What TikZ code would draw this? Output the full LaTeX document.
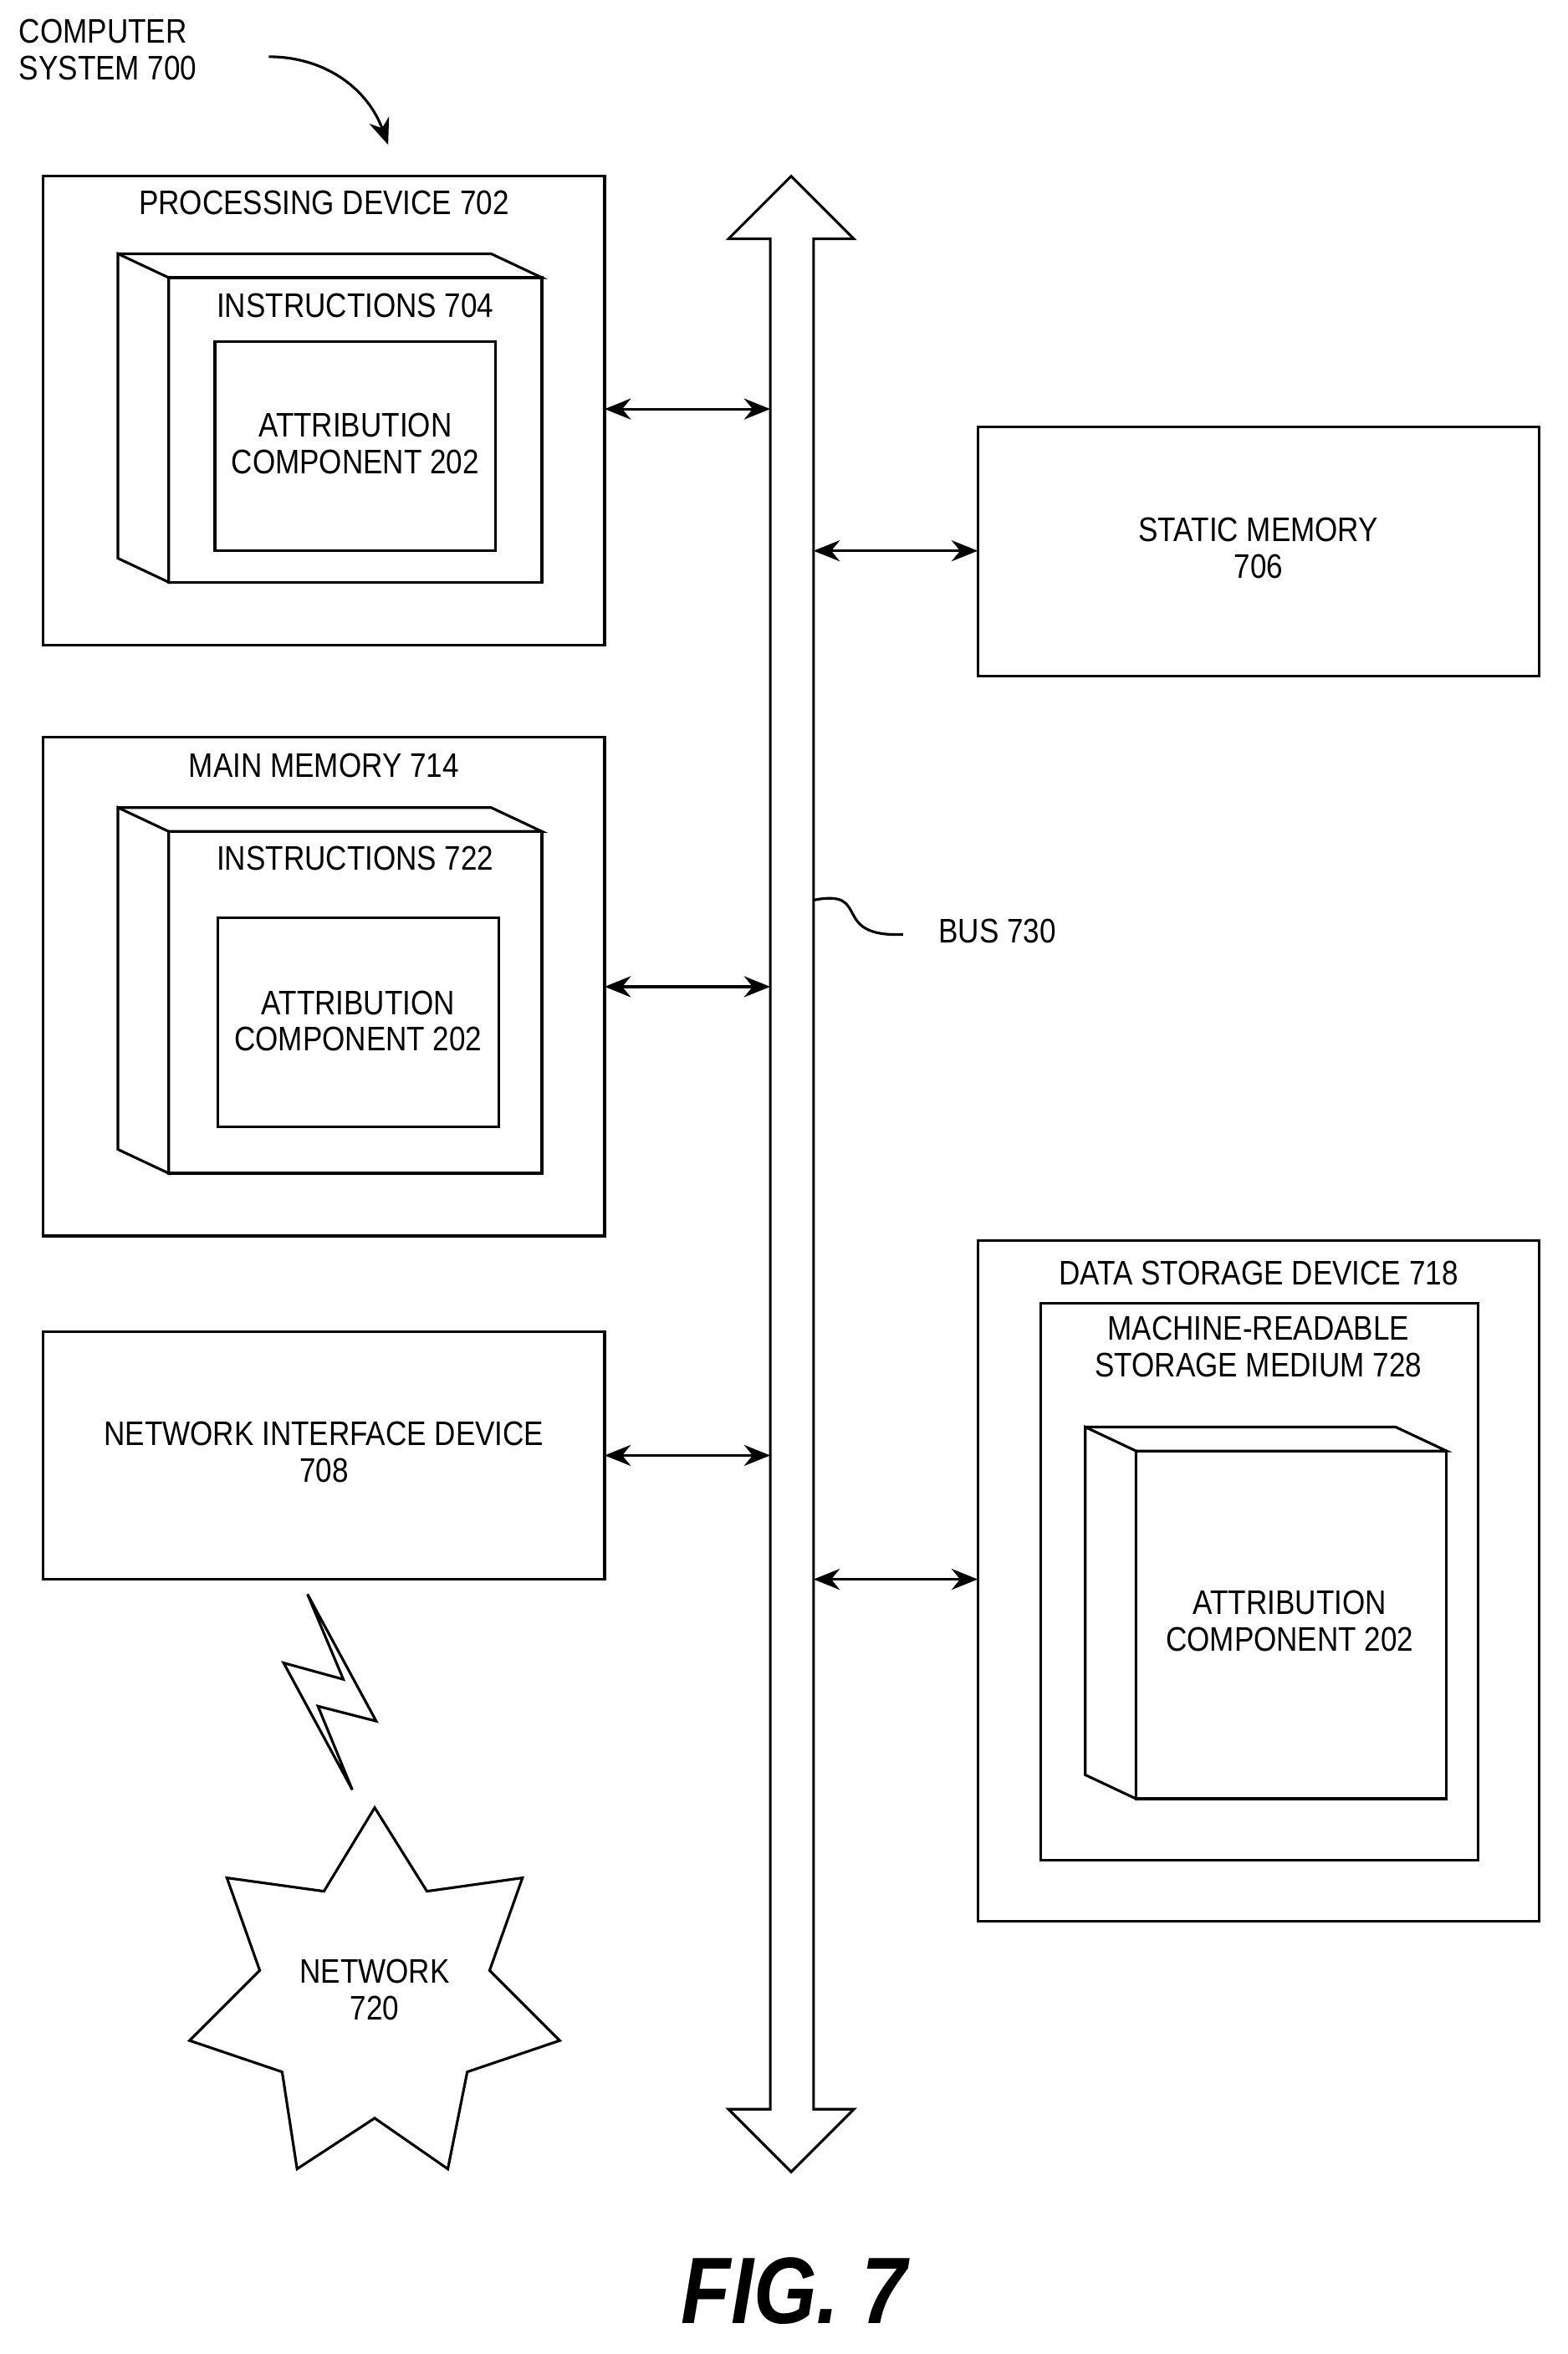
\documentclass[tikz,border=0pt]{standalone}
\usepackage{fontspec}
\setmainfont[FakeStretch=0.86]{Liberation Sans}
\usetikzlibrary{arrows.meta}
\begin{document}
\begin{tikzpicture}[x=0.1mm,y=-0.1mm,line width=0.5pt,
 lbl/.style={font=\fontsize{6.5}{7.0}\selectfont,align=center,inner sep=0},
 dbl/.style={{Stealth[length=5pt,width=4pt]}-{Stealth[length=5pt,width=4pt]}}]
\useasboundingbox (0,0) rectangle (1050,1577);
\node[lbl,align=left,anchor=north west] (cs) at (12,12) {COMPUTER\\SYSTEM 700};
\coordinate (csa) at (180,38); \coordinate (csb) at (260,97);
\draw[-{Stealth[length=5pt,width=4pt]}] (csa) to[out=0,in=110] (csb);
% processing device
\draw (29,118) rectangle (405,432);
\node[lbl] (pdl) at (217,136) {PROCESSING DEVICE 702};
\draw (79,170)--(113,186)--(113,390)--(79,374)--cycle;
\draw (79,170)--(329,170)--(363,186)--(113,186);
\draw (113,186) rectangle (363,390);
\node[lbl] (i704) at (238,205) {INSTRUCTIONS 704};
\draw (144,229) rectangle (332,369);
\node[lbl] (ac1) at (238,297) {ATTRIBUTION\\COMPONENT 202};
% main memory
\draw (29,494) rectangle (405,828);
\node[lbl] (mml) at (217,513) {MAIN MEMORY 714};
\draw (79,541)--(113,557)--(113,786)--(79,770)--cycle;
\draw (79,541)--(329,541)--(363,557)--(113,557);
\draw (113,557) rectangle (363,786);
\node[lbl] (i722) at (238,575) {INSTRUCTIONS 722};
\draw (146,615) rectangle (334,755);
\node[lbl] (ac2) at (240,684) {ATTRIBUTION\\COMPONENT 202};
% network interface
\draw (29,892) rectangle (405,1058);
\node[lbl] (nid) at (217,973) {NETWORK INTERFACE DEVICE\\708};
% static memory
\draw (655,286) rectangle (1031,453);
\node[lbl] (sm) at (843,367) {STATIC MEMORY\\706};
% data storage
\draw (655,831) rectangle (1031,1287);
\node[lbl] (dsl) at (843,853) {DATA STORAGE DEVICE 718};
\draw (697,873) rectangle (990,1246);
\node[lbl] (mrs) at (843,902) {MACHINE-READABLE\\STORAGE MEDIUM 728};
\draw (727,956)--(761,972)--(761,1205)--(727,1189)--cycle;
\draw (727,956)--(935,956)--(969,972)--(761,972);
\draw (761,972) rectangle (969,1205);
\node[lbl] (ac3) at (864,1086) {ATTRIBUTION\\COMPONENT 202};
% bus
\draw (516,160)--(488,160)--(530,118)--(572,160)--(545,160)--(545,1413)--(572,1413)--(530,1455)--(488,1413)--(516,1413)--cycle;
\coordinate (b1) at (516,274); \coordinate (p1) at (405,274);
\coordinate (b2) at (545,369); \coordinate (s1) at (655,369);
\coordinate (b3) at (516,661); \coordinate (m1) at (405,661);
\coordinate (b4) at (516,975); \coordinate (n1) at (405,975);
\coordinate (b5) at (545,1058); \coordinate (d1) at (655,1058);
\draw[dbl] (p1)--(b1); \draw[dbl] (b2)--(s1); \draw[dbl] (m1)--(b3);
\draw[dbl] (n1)--(b4); \draw[dbl] (b5)--(d1);
\node[lbl,anchor=west] (bus) at (628,624) {BUS 730};
\draw (545,603) .. controls (585,595) and (555,628) .. (605,626);
% lightning
\draw (206,1068)--(252,1153)--(213,1143)--(236,1199)--(190,1114)--(230,1125)--cycle;
% network star
\draw (251,1211)--(286,1267)--(350,1258)--(328,1320)--(375,1367)--(313,1388)--(300,1453)--(251,1419)--(199,1453)--(189,1388)--(127,1367)--(174,1320)--(152,1258)--(217,1267)--cycle;
\node[lbl] (net) at (251,1333) {NETWORK\\720};
\node[font=\fontsize{18}{22}\selectfont\bfseries\itshape] (fig) at (532,1535) {FIG. 7};
\end{tikzpicture}
\end{document}
